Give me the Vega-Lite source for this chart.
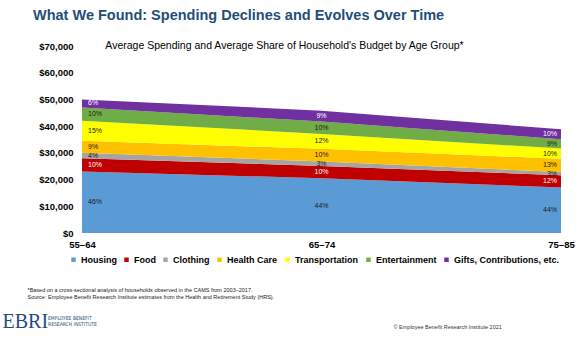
{
  "$schema": "https://vega.github.io/schema/vega-lite/v6.json",
  "width": 479,
  "height": 187,
  "autosize": {"type": "none"},
  "padding": {"left": 82, "top": 46, "right": 22, "bottom": 112},
  "background": "white",
  "title": {
    "text": "What We Found: Spending Declines and Evolves Over Time",
    "anchor": "start",
    "frame": "group",
    "dx": -49,
    "offset": 17,
    "font": "Liberation Sans",
    "fontSize": 14.5,
    "fontWeight": "bold",
    "color": "#1F4E79"
  },
  "data": {
    "values": [
      {"age": "55–64", "category": "Housing", "amount": 23000, "pct": 0.46},
      {"age": "55–64", "category": "Food", "amount": 5000, "pct": 0.10},
      {"age": "55–64", "category": "Clothing", "amount": 2000, "pct": 0.04},
      {"age": "55–64", "category": "Health Care", "amount": 4500, "pct": 0.09},
      {"age": "55–64", "category": "Transportation", "amount": 7500, "pct": 0.15},
      {"age": "55–64", "category": "Entertainment", "amount": 5000, "pct": 0.10},
      {"age": "55–64", "category": "Gifts, Contributions, etc.", "amount": 3000, "pct": 0.06},
      {"age": "65–74", "category": "Housing", "amount": 20500, "pct": 0.44},
      {"age": "65–74", "category": "Food", "amount": 4600, "pct": 0.10},
      {"age": "65–74", "category": "Clothing", "amount": 1700, "pct": 0.03},
      {"age": "65–74", "category": "Health Care", "amount": 4700, "pct": 0.10},
      {"age": "65–74", "category": "Transportation", "amount": 5600, "pct": 0.12},
      {"age": "65–74", "category": "Entertainment", "amount": 4600, "pct": 0.10},
      {"age": "65–74", "category": "Gifts, Contributions, etc.", "amount": 4100, "pct": 0.09},
      {"age": "75–85", "category": "Housing", "amount": 17000, "pct": 0.44},
      {"age": "75–85", "category": "Food", "amount": 4600, "pct": 0.12},
      {"age": "75–85", "category": "Clothing", "amount": 1200, "pct": 0.03},
      {"age": "75–85", "category": "Health Care", "amount": 5000, "pct": 0.13},
      {"age": "75–85", "category": "Transportation", "amount": 3800, "pct": 0.10},
      {"age": "75–85", "category": "Entertainment", "amount": 3500, "pct": 0.09},
      {"age": "75–85", "category": "Gifts, Contributions, etc.", "amount": 3700, "pct": 0.10}
    ]
  },
  "layer": [
    {
      "transform": [{"window": [{"op": "row_number", "as": "rank"}], "groupby": ["age"]}],
      "layer": [
        {
          "mark": {"type": "area"},
          "encoding": {
            "x": {
              "field": "age", "type": "ordinal",
              "scale": {"type": "point", "padding": 0},
              "axis": {
                "orient": "bottom", "labelAngle": 0,
                "labelFont": "Liberation Sans", "labelFontSize": 9.5, "labelFontWeight": "bold", "labelColor": "#000",
                "labelPadding": 6, "ticks": false, "domain": false, "grid": false,
                "title": ["*Based on a cross-sectional analysis of households observed in the CAMS from 2003–2017.", "Source: Employee Benefit Research Institute estimates from the Health and Retirement Study (HRS)."],
                "titleX": -55, "titleY": 54, "titleAlign": "left", "titleAnchor": "start", "titleBaseline": "top",
                "titleFont": "Liberation Sans", "titleFontSize": 5.5, "titleFontWeight": "normal", "titleColor": "#222", "titleLineHeight": 7.5
              }
            },
            "y": {
              "field": "amount", "type": "quantitative", "stack": "zero",
              "scale": {"domain": [0, 70000], "nice": false},
              "axis": {
                "orient": "left",
                "values": [0, 10000, 20000, 30000, 40000, 50000, 60000, 70000],
                "tickCount": 8,
                "format": "$,d",
                "labelFont": "Liberation Sans", "labelFontSize": 9.5, "labelFontWeight": "bold", "labelColor": "#000",
                "labelPadding": 9, "labelOverlap": false, "ticks": false, "domain": false, "grid": false,
                "title": "EBRI", "titleAngle": 0, "titleX": -80, "titleY": 281, "titleAlign": "left", "titleBaseline": "alphabetic",
                "titleFont": "Liberation Serif", "titleFontSize": 20, "titleFontWeight": "normal", "titleColor": "#1F4E79"
              }
            },
            "color": {
              "field": "category", "type": "nominal",
              "sort": ["Housing", "Food", "Clothing", "Health Care", "Transportation", "Entertainment", "Gifts, Contributions, etc."],
              "scale": {
                "domain": ["Housing", "Food", "Clothing", "Health Care", "Transportation", "Entertainment", "Gifts, Contributions, etc."],
                "range": ["#5B9BD5", "#C00000", "#A5A5A5", "#FFC000", "#FFFF00", "#70AD47", "#7030A0"]
              },
              "legend": {
                "orient": "none", "legendX": -13, "legendY": 209, "direction": "horizontal", "title": null,
                "symbolType": "square", "symbolSize": 20, "symbolStrokeWidth": 0,
                "labelFont": "Liberation Sans", "labelFontSize": 9, "labelFontWeight": "bold", "labelColor": "#000",
                "columnPadding": 5, "labelOffset": 3, "padding": 0
              }
            },
            "order": {"field": "rank", "type": "quantitative", "sort": "ascending"}
          }
        },
        {
          "transform": [{"filter": "datum.age === '55–64'"}],
          "mark": {"type": "text", "align": "left", "dx": 6, "baseline": "middle", "font": "Liberation Sans", "fontSize": 7},
          "encoding": {
            "x": {"field": "age", "type": "ordinal"},
            "y": {"field": "amount", "type": "quantitative", "stack": "zero", "bandPosition": 0.5},
            "detail": {"field": "category", "type": "nominal"},
            "order": {"field": "rank", "type": "quantitative", "sort": "ascending"},
            "color": {"condition": {"test": "datum.category === 'Food' || datum.category === 'Gifts, Contributions, etc.'", "value": "#FFFFFF"}, "value": "#1A1A1A"},
            "text": {"field": "pct", "type": "quantitative", "format": ".0%"}
          }
        },
        {
          "transform": [{"filter": "datum.age === '65–74'"}],
          "mark": {"type": "text", "align": "center", "baseline": "middle", "font": "Liberation Sans", "fontSize": 7},
          "encoding": {
            "x": {"field": "age", "type": "ordinal"},
            "y": {"field": "amount", "type": "quantitative", "stack": "zero", "bandPosition": 0.5},
            "detail": {"field": "category", "type": "nominal"},
            "order": {"field": "rank", "type": "quantitative", "sort": "ascending"},
            "color": {"condition": {"test": "datum.category === 'Food' || datum.category === 'Gifts, Contributions, etc.'", "value": "#FFFFFF"}, "value": "#1A1A1A"},
            "text": {"field": "pct", "type": "quantitative", "format": ".0%"}
          }
        },
        {
          "transform": [{"filter": "datum.age === '75–85'"}],
          "mark": {"type": "text", "align": "right", "dx": -4, "baseline": "middle", "font": "Liberation Sans", "fontSize": 7},
          "encoding": {
            "x": {"field": "age", "type": "ordinal"},
            "y": {"field": "amount", "type": "quantitative", "stack": "zero", "bandPosition": 0.5},
            "detail": {"field": "category", "type": "nominal"},
            "order": {"field": "rank", "type": "quantitative", "sort": "ascending"},
            "color": {"condition": {"test": "datum.category === 'Food' || datum.category === 'Gifts, Contributions, etc.'", "value": "#FFFFFF"}, "value": "#1A1A1A"},
            "text": {"field": "pct", "type": "quantitative", "format": ".0%"}
          }
        }
      ]
    },
    {
      "mark": {"type": "point", "opacity": 0},
      "encoding": {
        "x": {
          "field": "age", "type": "ordinal",
          "axis": {
            "orient": "top", "labels": false, "ticks": false, "domain": false, "grid": false,
            "title": "Average Spending and Average Share of Household's Budget by Age Group*",
            "titleX": 202, "titleY": -1, "titleAlign": "center", "titleBaseline": "middle",
            "titleFont": "Liberation Sans", "titleFontSize": 10.5, "titleFontWeight": "normal", "titleColor": "#000"
          }
        },
        "y": {
          "field": "amount", "type": "quantitative",
          "axis": {
            "orient": "right", "labels": false, "ticks": false, "domain": false, "grid": false,
            "title": "© Employee Benefit Research Institute 2021",
            "titleAngle": 0, "titleX": -168, "titleY": 282, "titleAlign": "left", "titleBaseline": "alphabetic",
            "titleFont": "Liberation Sans", "titleFontSize": 5.5, "titleFontWeight": "normal", "titleColor": "#333"
          }
        },
        "strokeDash": {
          "field": "age", "type": "nominal",
          "legend": {
            "orient": "none", "legendX": -34, "legendY": 270, "direction": "horizontal",
            "title": ["EMPLOYEE BENEFIT", "RESEARCH INSTITUTE"],
            "titleFont": "'Liberation Sans Narrow', 'DejaVu Sans Condensed', sans-serif", "titleFontSize": 5, "titleFontWeight": "normal", "titleColor": "#1F4E79", "titleLineHeight": 5.5,
            "labelExpr": "''", "labelFontSize": 1, "symbolSize": 1, "symbolOpacity": 0, "labelOpacity": 0, "padding": 0
          }
        }
      }
    }
  ],
  "resolve": {"axis": {"x": "independent", "y": "independent"}},
  "config": {"view": {"stroke": null}, "font": "Liberation Sans"}
}
